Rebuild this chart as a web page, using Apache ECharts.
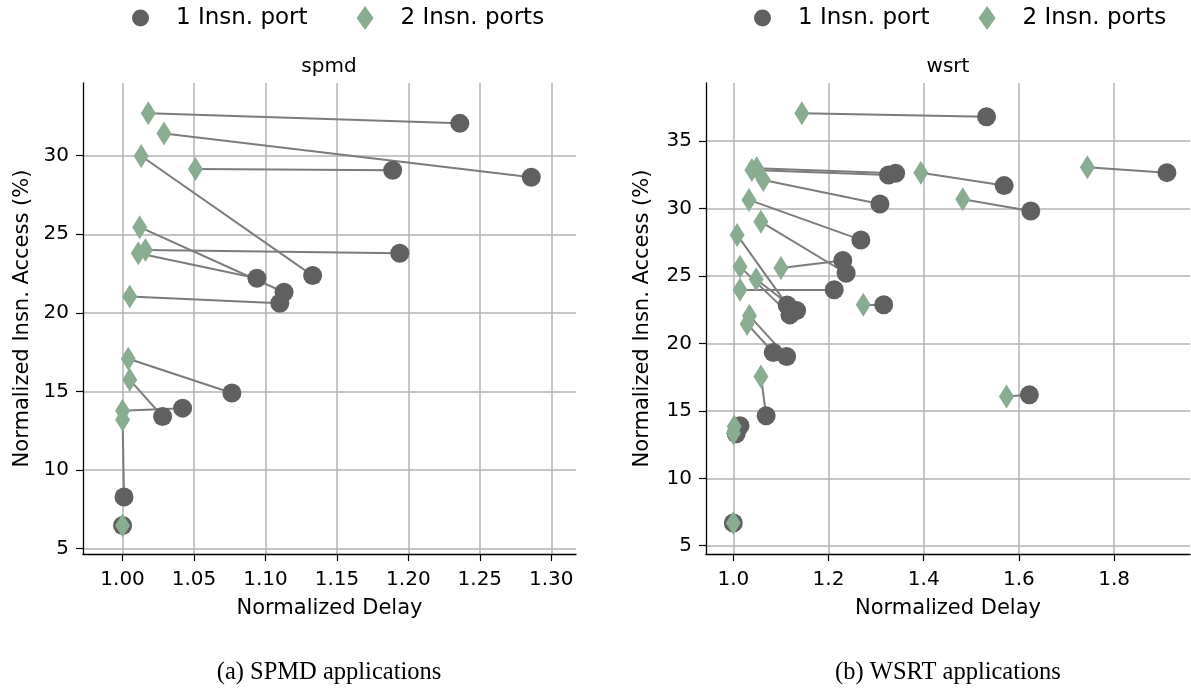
<!DOCTYPE html>
<html>
<head>
<meta charset="utf-8">
<script src="https://cdn.jsdelivr.net/npm/echarts@6/dist/echarts.min.js"></script>
<style>
html,body{margin:0;padding:0;background:#fff;}
#chart{width:1191px;height:692px;}
</style>
</head>
<body>
<div id="chart"></div>
<script>
// ---------- data ----------
const seriesNames = ['1 Insn. port', '2 Insn. ports'];
const panelTitles = ['spmd', 'wsrt'];
const captions = ['(a) SPMD applications', '(b) WSRT applications'];
const xAxisName = 'Normalized Delay';
const yAxisName = 'Normalized Insn. Access (%)';

// spmd: 2-port points and their paired 1-port points
const spmdTwoX = [1.018, 1.029, 1.013, 1.051, 1.012, 1.016, 1.011, 1.005, 1.004, 1.005, 1.000, 1.000, 1.000];
const spmdTwoY = [32.70, 31.42, 29.98, 29.15, 25.45, 24.00, 23.79, 21.03, 17.07, 15.73, 13.76, 13.19, 6.46];
const spmdOneX = [1.236, 1.286, 1.133, 1.189, 1.113, 1.194, 1.094, 1.110, 1.0765, 1.028, 1.042, 1.001, 1.000];
const spmdOneY = [32.06, 28.63, 22.37, 29.07, 21.31, 23.79, 22.20, 20.61, 14.89, 13.40, 13.93, 8.27, 6.46];

// wsrt
const wsrtTwoX = [1.144, 1.744, 1.394, 1.482, 1.039, 1.049, 1.063, 1.033, 1.058, 1.100, 1.008, 1.014, 1.048, 1.014, 1.273, 1.034, 1.029, 1.058, 1.002, 1.000, 1.000, 1.574];
const wsrtTwoY = [37.08, 33.07, 32.67, 30.70, 32.87, 33.00, 32.13, 30.65, 29.02, 25.59, 28.05, 25.70, 24.77, 23.98, 22.87, 22.05, 21.45, 17.55, 13.85, 13.35, 6.68, 16.07];
const wsrtOneX = [1.532, 1.911, 1.569, 1.625, 1.326, 1.341, 1.308, 1.268, 1.237, 1.230, 1.113, 1.119, 1.133, 1.212, 1.316, 1.112, 1.084, 1.069, 1.014, 1.006, 1.000, 1.622];
const wsrtOneY = [36.82, 32.67, 31.71, 29.83, 32.50, 32.63, 30.35, 27.68, 25.21, 26.15, 22.86, 22.12, 22.44, 23.98, 22.87, 19.03, 19.33, 14.64, 13.90, 13.30, 6.68, 16.19];

// axes
const spmdXRange = [0.9723, 1.3173];
const spmdYRange = [4.644, 34.63];
const wsrtXRange = [0.9426, 1.9595];
const wsrtYRange = [4.385, 39.32];
const spmdXTicks = [1.00, 1.05, 1.10, 1.15, 1.20, 1.25, 1.30];
const spmdYTicks = [5, 10, 15, 20, 25, 30];
const wsrtXTicks = [1.0, 1.2, 1.4, 1.6, 1.8];
const wsrtYTicks = [5, 10, 15, 20, 25, 30, 35];

// ---------- styles ----------
const FONT = 'DejaVu Sans';
const ONE_COLOR = '#606060';
const TWO_COLOR = '#88ad91';
const LINE_COLOR = '#7c7c7c';
const GRID_COLOR = '#b3b3b3';

function zip(a, b) { return a.map((v, i) => [v, b[i]]); }

function xAxisOpt(grid, range, ticks, dec) {
  return {
    type: 'value', gridIndex: grid, min: range[0], max: range[1],
    name: xAxisName, nameLocation: 'middle', nameGap: 44,
    nameTextStyle: {fontFamily: FONT, fontSize: 21, color: '#000'},
    axisLine: {show: true, onZero: false, lineStyle: {color: '#000', width: 1.3}},
    axisTick: {show: true, length: 7, customValues: ticks, lineStyle: {color: '#000', width: 1.2}},
    axisLabel: {customValues: ticks, margin: 16, fontFamily: FONT, fontSize: 20, color: '#000',
      formatter: v => Number(v).toFixed(dec)},
    splitLine: {show: true, lineStyle: {color: GRID_COLOR, width: 1.5}}
  };
}
function yAxisOpt(grid, range, ticks, gap) {
  return {
    type: 'value', gridIndex: grid, min: range[0], max: range[1],
    name: yAxisName, nameLocation: 'middle', nameGap: gap,
    nameTextStyle: {fontFamily: FONT, fontSize: 21, color: '#000'},
    axisLine: {show: true, onZero: false, lineStyle: {color: '#000', width: 1.3}},
    axisTick: {show: true, length: 7, customValues: ticks, lineStyle: {color: '#000', width: 1.2}},
    axisLabel: {customValues: ticks, margin: 14, fontFamily: FONT, fontSize: 20, color: '#000'},
    splitLine: {show: true, lineStyle: {color: GRID_COLOR, width: 1.5}}
  };
}

function panelSeries(idx, twoX, twoY, oneX, oneY) {
  return [
    {
      type: 'lines', coordinateSystem: 'cartesian2d', xAxisIndex: idx, yAxisIndex: idx,
      polyline: false, silent: true, z: 1,
      lineStyle: {color: LINE_COLOR, width: 2, opacity: 1},
      data: twoX.map((v, i) => ({coords: [[twoX[i], twoY[i]], [oneX[i], oneY[i]]]}))
    },
    {
      name: seriesNames[0], type: 'scatter', xAxisIndex: idx, yAxisIndex: idx, z: 2,
      symbol: 'circle', symbolSize: 19,
      itemStyle: {color: ONE_COLOR, opacity: 1},
      data: zip(oneX, oneY)
    },
    {
      name: seriesNames[1], type: 'scatter', xAxisIndex: idx, yAxisIndex: idx, z: 3,
      symbol: 'diamond', symbolSize: [15, 24],
      itemStyle: {color: TWO_COLOR, opacity: 1},
      data: zip(twoX, twoY)
    }
  ];
}

function legendOpt(left) {
  return {
    left: left, top: 6, padding: 0, itemWidth: 17, itemHeight: 24, itemGap: 49,
    selectedMode: false, data: seriesNames,
    formatter: n => '   ' + n,
    textStyle: {fontFamily: FONT, fontSize: 23, color: '#000'}
  };
}

function textEl(x, y, text, font) {
  return {type: 'text', x: x, y: y, silent: true,
    style: {text: text, font: font, fill: '#000', align: 'center', verticalAlign: 'middle'}};
}

const chart = echarts.init(document.getElementById('chart'), null, {renderer: 'canvas'});
chart.setOption({
  backgroundColor: '#fff',
  animation: false,
  grid: [
    {left: 83, top: 83, width: 493, height: 471},
    {left: 706, top: 83, width: 484, height: 471}
  ],
  legend: [legendOpt(132), legendOpt(754)],
  xAxis: [xAxisOpt(0, spmdXRange, spmdXTicks, 2), xAxisOpt(1, wsrtXRange, wsrtXTicks, 1)],
  yAxis: [yAxisOpt(0, spmdYRange, spmdYTicks, 50), yAxisOpt(1, wsrtYRange, wsrtYTicks, 53)],
  series: [].concat(
    panelSeries(0, spmdTwoX, spmdTwoY, spmdOneX, spmdOneY),
    panelSeries(1, wsrtTwoX, wsrtTwoY, wsrtOneX, wsrtOneY)
  ),
  graphic: [
    textEl(329, 67, panelTitles[0], '20px "DejaVu Sans"'),
    textEl(948, 67, panelTitles[1], '20px "DejaVu Sans"'),
    textEl(329, 673, captions[0], '24.5px "Liberation Serif"'),
    textEl(948, 673, captions[1], '24.5px "Liberation Serif"')
  ]
});
</script>
</body>
</html>
